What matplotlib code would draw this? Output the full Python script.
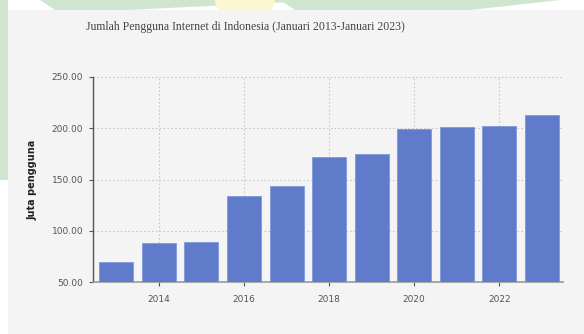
import matplotlib
matplotlib.use('Agg')
import matplotlib.pyplot as plt
from matplotlib.patches import Rectangle, Polygon, Ellipse

years = [2013, 2014, 2015, 2016, 2017, 2018, 2019, 2020, 2021, 2022, 2023]
users = [70.0, 88.0, 89.0, 134.0, 143.5, 171.5, 174.5, 199.5, 201.0, 202.5, 213.0]
year_ticks = [2014, 2016, 2018, 2020, 2022]
y_ticks = [50, 100, 150, 200, 250]

W, H = 584, 334
fig = plt.figure(figsize=(W / 100, H / 100), dpi=100)
fig.patch.set_facecolor('white')


def bg(patch):
    # background decoration, kept under the axes
    patch.set_zorder(-10)
    fig.patches.append(patch)


green = '#cfe5cf'
bg(Polygon([[0, 1], [8 / W, 1], [8 / W, 1 - 180 / H], [0, 1 - 180 / H]], closed=True,
           transform=fig.transFigure, facecolor=green, edgecolor='none'))
bg(Polygon([[40 / W, 1], [330 / W, 1], [60 / W, 0.96]], closed=True,
           transform=fig.transFigure, facecolor=green, edgecolor='none'))
bg(Ellipse((245 / W, 1.0), 60 / W, 40 / H, transform=fig.transFigure,
           facecolor='#fbf7d0', edgecolor='none'))
bg(Polygon([[280 / W, 1], [560 / W, 1], [440 / W, 0.96], [300 / W, 0.96]], closed=True,
           transform=fig.transFigure, facecolor=green, edgecolor='none'))
# grey chart panel
bg(Rectangle((8 / W, 0), 1 - 8 / W, 1 - 10 / H, transform=fig.transFigure,
             facecolor='#f4f4f4', edgecolor='none'))

ax = fig.add_axes([93 / W, 1 - 282 / H, (563 - 93) / W, (282 - 77) / H])
ax.set_facecolor('#f4f4f4')

ax.bar(years, [u - 50 for u in users], bottom=50, width=0.8, color='#5f7bca',
       edgecolor='#7f98dd', linewidth=0.6, zorder=3)

ax.set_xlim(2012.45, 2023.5)
ax.set_ylim(50, 250)
ax.set_xticks(year_ticks)
ax.set_xticklabels([str(y) for y in year_ticks])
ax.set_yticks(y_ticks)
ax.set_yticklabels(['%.2f' % v for v in y_ticks])

ax.grid(True, color='#c8c8c8', linestyle=(0, (1.5, 2)), linewidth=0.8, zorder=0)
ax.tick_params(axis='both', labelsize=6.5, colors='#555555', length=3, width=0.8, pad=4)
ax.tick_params(axis='x', pad=6)

for s in ['top', 'right']:
    ax.spines[s].set_visible(False)
ax.spines['left'].set_color('#555555')
ax.spines['bottom'].set_color('#999999')
ax.spines['left'].set_linewidth(1.0)
ax.spines['bottom'].set_linewidth(1.2)

ax.set_ylabel('Juta pengguna', fontsize=7, color='#222222', fontweight='bold', labelpad=10)

fig.text(245 / W, 1 - 27 / H, 'Jumlah Pengguna Internet di Indonesia (Januari 2013-Januari 2023)',
         ha='center', va='center', fontsize=8.5, family='Liberation Serif', color='#444444')

fig.savefig('out.png', dpi=100, facecolor=fig.get_facecolor())
